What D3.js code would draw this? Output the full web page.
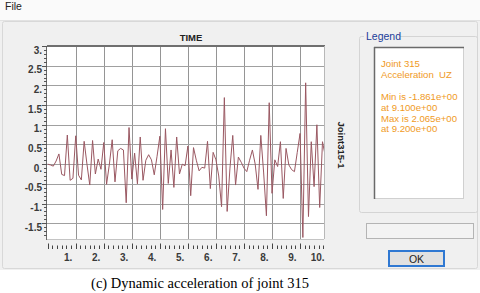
<!DOCTYPE html>
<html>
<head>
<meta charset="utf-8">
<script src="https://cdn.jsdelivr.net/npm/d3@7"></script>
<style>
  body { margin: 0; background: #fff; }
  svg { display: block; }
</style>
</head>
<body>
<div id="viz"></div>
<script>
// data, one value every 0.1 s
let times = d3.range(100).map((i) => i / 10);
let accel = [
  0.0, -0.02, -0.05, 0.08, 0.26, -0.26, -0.29, 0.74, -0.41, -0.36,
  0.72, -0.28, -0.4, 0.58, 0.0, -0.53, 0.6, -0.25, 0.13, -0.13,
  0.55, -0.51, 0.0, 0.62, -0.45, 0.34, 0.4, 0.36, -0.98, 0.93,
  -0.38, 0.28, -0.5, 0.69, -0.41, 0.1, 0.24, 0.11, -0.27, 0.2,
  0.71, -1.15, 0.9, -0.49, 0.36, -0.59, 0.69, -0.25, 0.0, -0.04,
  0.46, -0.8, 0.42, 0.1, -0.17, -0.08, -0.1, 0.58, -0.62, 0.3,
  0.11, -0.3, -1.08, 1.69, -1.2, -0.1, 0.73, -0.53, 0.18, 0.05,
  -0.1, -0.19, 0.1, 0.36, 0.0, -0.64, 0.73, -0.2, -1.31, 1.56,
  -0.74, 0.11, -0.06, 0.57, -0.87, 0.4, -0.02, -0.14, -0.19, 0.3,
  0.78, -1.861, 2.065, -1.33, 0.57, -0.57, 1.0, -1.1, 0.57, 0.2
];
let xTicks = [1, 2, 3, 4, 5, 6, 7, 8, 9, 10];
let yTicks = [3, 2.5, 2, 1.5, 1, 0.5, 0, -0.5, -1, -1.5];
let legendLines = [
  'Joint 315',
  'Acceleration  UZ',
  '',
  'Min is -1.861e+00',
  'at 9.100e+00',
  'Max is 2.065e+00',
  'at 9.200e+00'
];

const W = 480;
const H = 293;
const pLeft = 47;
const pRight = 324;
const pTop = 46;
const pBottom = 239;
const ui = "'Liberation Sans', Arial, sans-serif";

let x = d3.scaleLinear().domain([0, 10]).range([47.7, 328.1]);
let y = d3.scaleLinear().domain([-1.9, 3]).range([pBottom, pTop]);

let svg = d3
  .select('#viz')
  .append('svg')
  .attr('width', W)
  .attr('height', H);

// window chrome
svg.append('rect').attr('width', W).attr('height', 270).attr('fill', '#f0f0f0');
svg.append('rect').attr('width', W).attr('height', 20).attr('fill', '#fafafa');
svg.append('line').attr('x1', 0).attr('x2', W).attr('y1', 20.5).attr('y2', 20.5).attr('stroke', '#e2e2e2');
svg
  .append('rect')
  .attr('x', 2.5)
  .attr('y', 21.5)
  .attr('width', 475)
  .attr('height', 247)
  .attr('rx', 2)
  .attr('fill', 'none')
  .attr('stroke', '#d8d8d8');
svg
  .append('text')
  .attr('x', 5)
  .attr('y', 10)
  .attr('font-family', ui)
  .attr('font-size', 10.5)
  .attr('fill', '#222')
  .text('File');

// plot
let plot = svg.append('g');

plot
  .append('rect')
  .attr('x', pLeft)
  .attr('y', pTop)
  .attr('width', pRight - pLeft)
  .attr('height', pBottom - pTop)
  .attr('fill', '#fff');

plot
  .append('g')
  .selectAll('line')
  .data(xTicks.filter((d) => x(d) < pRight))
  .enter()
  .append('line')
  .attr('x1', (d) => Math.round(x(d)) + 0.5)
  .attr('x2', (d) => Math.round(x(d)) + 0.5)
  .attr('y1', pTop)
  .attr('y2', pBottom)
  .attr('stroke', '#959595');

plot
  .append('g')
  .selectAll('line')
  .data(yTicks.filter((d) => d < 3))
  .enter()
  .append('line')
  .attr('x1', pLeft)
  .attr('x2', pRight)
  .attr('y1', (d) => Math.round(y(d)) + 0.5)
  .attr('y2', (d) => Math.round(y(d)) + 0.5)
  .attr('stroke', '#a0a0a0');

svg
  .append('clipPath')
  .attr('id', 'clip')
  .append('rect')
  .attr('x', pLeft)
  .attr('y', pTop)
  .attr('width', pRight - pLeft)
  .attr('height', pBottom - pTop);

let line = d3
  .line()
  .x((d, i) => x(times[i]))
  .y((d) => y(d));

plot
  .append('path')
  .datum(accel)
  .attr('clip-path', 'url(#clip)')
  .attr('d', line)
  .attr('fill', 'none')
  .attr('stroke', '#9a5862')
  .attr('stroke-width', 1)
  .attr('stroke-linejoin', 'round');

// borders
plot.append('line').attr('x1', pLeft).attr('x2', pRight + 1).attr('y1', pTop).attr('y2', pTop).attr('stroke', '#6f6f6f').attr('stroke-width', 2);
plot.append('line').attr('x1', pLeft - 0.5).attr('x2', pLeft - 0.5).attr('y1', pTop).attr('y2', pBottom + 1).attr('stroke', '#6a6a6a');
plot.append('line').attr('x1', pRight + 0.5).attr('x2', pRight + 0.5).attr('y1', pTop).attr('y2', pBottom).attr('stroke', '#b8b8b8');
plot.append('line').attr('x1', pLeft).attr('x2', pRight).attr('y1', pBottom + 0.5).attr('y2', pBottom + 0.5).attr('stroke', '#c4c4c4');

// left ruler
let yMinor = d3.range(-18, 31).map((d) => d / 10);
plot
  .append('g')
  .selectAll('line')
  .data(yMinor)
  .enter()
  .append('line')
  .attr('x1', (d) => (Math.abs(d * 2 - Math.round(d * 2)) < 1e-6 ? pLeft - 5 : pLeft - 3))
  .attr('x2', pLeft)
  .attr('y1', (d) => Math.round(y(d)) + 0.5)
  .attr('y2', (d) => Math.round(y(d)) + 0.5)
  .attr('stroke', '#555');

plot
  .append('g')
  .selectAll('text')
  .data(yTicks)
  .enter()
  .append('text')
  .attr('x', 42)
  .attr('y', (d) => y(d) + 7.5)
  .attr('text-anchor', 'end')
  .attr('font-family', ui)
  .attr('font-size', 10)
  .attr('font-weight', 'bold')
  .attr('fill', '#3a3a3a')
  .text((d) => (Number.isInteger(d) ? d + '.' : String(d)));

// bottom ruler
let xMinor = d3.range(0, 60).map((d) => d / 6).filter((d) => x(d) <= pRight + 1);
plot
  .append('g')
  .selectAll('line')
  .data(xMinor)
  .enter()
  .append('line')
  .attr('x1', (d) => Math.round(x(d)) + 0.5)
  .attr('x2', (d) => Math.round(x(d)) + 0.5)
  .attr('y1', (d) => (Math.abs(d - Math.round(d)) < 1e-6 ? 243.5 : 245.5))
  .attr('y2', 249)
  .attr('stroke', '#444');

plot
  .append('g')
  .selectAll('text')
  .data(xTicks)
  .enter()
  .append('text')
  .attr('x', (d) => x(d) - 3.5)
  .attr('y', 260.5)
  .attr('text-anchor', 'end')
  .attr('font-family', ui)
  .attr('font-size', 10)
  .attr('font-weight', 'bold')
  .attr('fill', '#3a3a3a')
  .text((d) => d + '.');

svg
  .append('text')
  .attr('x', 191)
  .attr('y', 41)
  .attr('text-anchor', 'middle')
  .attr('font-family', ui)
  .attr('font-size', 9.5)
  .attr('font-weight', 'bold')
  .attr('fill', '#222')
  .text('TIME');

svg
  .append('text')
  .attr('transform', 'translate(338,145) rotate(90)')
  .attr('text-anchor', 'middle')
  .attr('font-family', ui)
  .attr('font-size', 9.5)
  .attr('font-weight', 'bold')
  .attr('fill', '#222')
  .text('Joint315-1');

// legend group
let legend = svg.append('g');
legend
  .append('rect')
  .attr('x', 359.5)
  .attr('y', 36.5)
  .attr('width', 118)
  .attr('height', 176)
  .attr('rx', 2)
  .attr('fill', 'none')
  .attr('stroke', '#d4d4d4');
legend.append('rect').attr('x', 364).attr('y', 30).attr('width', 36).attr('height', 12).attr('fill', '#f0f0f0');
legend
  .append('text')
  .attr('x', 366)
  .attr('y', 40)
  .attr('font-family', ui)
  .attr('font-size', 10.5)
  .attr('fill', '#203c99')
  .text('Legend');

legend
  .append('rect')
  .attr('x', 374.5)
  .attr('y', 47.5)
  .attr('width', 89)
  .attr('height', 151)
  .attr('fill', '#fff')
  .attr('stroke', '#d0d0d0');
legend.append('line').attr('x1', 374).attr('x2', 464).attr('y1', 47.5).attr('y2', 47.5).attr('stroke', '#6a6a6a').attr('stroke-width', 1.5);
legend.append('line').attr('x1', 374.5).attr('x2', 374.5).attr('y1', 47).attr('y2', 199).attr('stroke', '#6a6a6a').attr('stroke-width', 1.5);

legend
  .append('g')
  .selectAll('text')
  .data(legendLines)
  .enter()
  .append('text')
  .attr('x', 381)
  .attr('y', (d, i) => 67 + i * 10.9)
  .attr('font-family', ui)
  .attr('font-size', 9.6)
  .attr('fill', '#f09a1e')
  .style('white-space', 'pre')
  .text((d) => d);

svg
  .append('rect')
  .attr('x', 366.5)
  .attr('y', 223.5)
  .attr('width', 107)
  .attr('height', 15)
  .attr('fill', '#f3f3f3')
  .attr('stroke', '#b4b4b4');

svg
  .append('rect')
  .attr('x', 389)
  .attr('y', 251)
  .attr('width', 55)
  .attr('height', 15)
  .attr('fill', '#e1e1e1')
  .attr('stroke', '#2f78d2')
  .attr('stroke-width', 2);
svg
  .append('text')
  .attr('x', 416.5)
  .attr('y', 262.5)
  .attr('text-anchor', 'middle')
  .attr('font-family', ui)
  .attr('font-size', 10.5)
  .attr('fill', '#222')
  .text('OK');

// caption
svg
  .append('text')
  .attr('x', 200)
  .attr('y', 288)
  .attr('text-anchor', 'middle')
  .attr('font-family', "'Liberation Serif', 'Times New Roman', serif")
  .attr('font-size', 14.5)
  .attr('fill', '#000')
  .text('(c) Dynamic acceleration of joint 315');
</script>
</body>
</html>
